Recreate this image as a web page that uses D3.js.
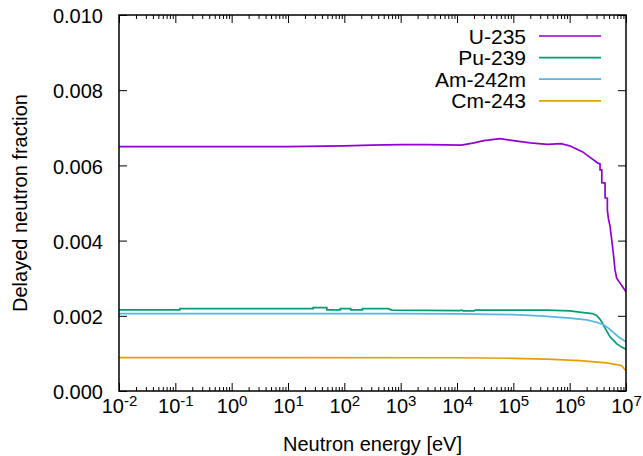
<!DOCTYPE html>
<html><head><meta charset="utf-8">
<script src="https://cdn.jsdelivr.net/npm/d3@7"></script>
<style>
body{margin:0;background:#fff;}
text{font-family:"Liberation Sans",Arial,Helvetica,sans-serif;fill:#000;}
</style>
</head><body>
<svg id="chart" width="643" height="456"></svg>
<script>
// ---- data ----
const seriesNames = ["U-235", "Pu-239", "Am-242m", "Cm-243"];
const seriesColors = ["#9400d3", "#009e73", "#56b4e9", "#e69f00"];

const u235Energy = [1e-2, 1e1, 1e2, 3e2, 1e3, 3e3, 1.2e4, 2e4, 3e4, 5.8e4, 1e5, 2e5, 4e5, 7e5, 1e6, 1.7e6, 3.18e6,
  3.46e6, 3.46e6, 3.72e6, 3.72e6, 4.25e6, 4.25e6, 4.67e6, 4.67e6, 4.86e6, 5.2e6, 5.58e6, 5.96e6, 6.38e6, 6.84e6, 1e7];
const u235Value = [0.00650, 0.00650, 0.00652, 0.00654, 0.00655, 0.00655, 0.00654, 0.00660, 0.00666, 0.00671, 0.00666, 0.00660, 0.00656, 0.00658, 0.00652, 0.00636, 0.00606,
  0.00604, 0.00588, 0.00588, 0.00554, 0.00553, 0.00514, 0.00513, 0.00481, 0.00459, 0.00439, 0.00402, 0.00366, 0.00322, 0.00300, 0.00264];

const pu239Energy = [1e-2, 1.2e-1, 1.2e-1, 2.8e1, 2.8e1, 4.9e1, 4.9e1, 8.5e1, 8.5e1, 1.3e2, 1.3e2, 2.1e2, 2.1e2, 6e2, 7e2, 1.1e4, 1.2e4, 1.3e4, 2e4, 2.1e4, 1e5, 4e5, 1e6, 1.5e6, 2.5e6, 3.0e6, 3.4e6, 3.7e6, 4.25e6, 5.2e6, 6.8e6, 8.5e6, 1e7];
const pu239Value = [0.00216, 0.00216, 0.00219, 0.00219, 0.00222, 0.00222, 0.00216, 0.00216, 0.00219, 0.00219, 0.00216, 0.00216, 0.00219, 0.00219, 0.00215, 0.00214, 0.00215, 0.00213, 0.00213, 0.00215, 0.00215, 0.00215, 0.00213, 0.00210, 0.00206, 0.00201, 0.00192, 0.00184, 0.00167, 0.00144, 0.00126, 0.00116, 0.00111];

const am242mEnergy = [1e-2, 1e3, 1e4, 1e5, 3e5, 1e6, 2e6, 3e6, 4e6, 5e6, 6e6, 7.5e6, 1e7];
const am242mValue = [0.00206, 0.00206, 0.00205, 0.00203, 0.00200, 0.00194, 0.00189, 0.00183, 0.00176, 0.00166, 0.00155, 0.00143, 0.00131];

const cm243Energy = [1e-2, 1e4, 1e5, 4e5, 1.5e6, 4.5e6, 8.3e6, 1e7];
const cm243Value = [0.000886, 0.000884, 0.000870, 0.000850, 0.000810, 0.000750, 0.000680, 0.000540];

const xTickExponents = [-2, -1, 0, 1, 2, 3, 4, 5, 6, 7];
const yTickValues = [0, 0.002, 0.004, 0.006, 0.008, 0.010];
const yTickLabels = ["0.000", "0.002", "0.004", "0.006", "0.008", "0.010"];
const xTitle = "Neutron energy [eV]";
const yTitle = "Delayed neutron fraction";

(function draw() {
  const pLeft = 119, pRight = 626, pTop = 15, pBottom = 391;

  const svg = d3.select("#chart");
  const x = d3.scaleLog().domain([1e-2, 1e7]).range([pLeft, pRight]);
  const y = d3.scaleLinear().domain([0, 0.010]).range([pBottom, pTop]);

  const majorX = xTickExponents.map(e => Math.pow(10, e));
  const minorX = [];
  for (let e = -2; e < 7; e++) for (let m = 2; m <= 9; m++) minorX.push(m * Math.pow(10, e));

  function styleAxis(g) {
    g.select(".domain").remove();
    g.selectAll(".tick line").attr("stroke", "#000").attr("stroke-width", 1);
    g.selectAll(".tick text").remove();
  }

  svg.append("g").attr("transform", `translate(0,${pBottom})`)
    .call(d3.axisBottom(x).tickValues(minorX).tickSize(-4).tickFormat("")).call(styleAxis);
  const bottomMajor = svg.append("g").attr("transform", `translate(0,${pBottom})`)
    .call(d3.axisBottom(x).tickValues(majorX).tickSize(-8).tickFormat("")).call(styleAxis);
  svg.append("g").attr("transform", `translate(0,${pTop})`)
    .call(d3.axisTop(x).tickValues(minorX).tickSize(-4).tickFormat("")).call(styleAxis);
  svg.append("g").attr("transform", `translate(0,${pTop})`)
    .call(d3.axisTop(x).tickValues(majorX).tickSize(-8).tickFormat("")).call(styleAxis);
  const leftAxis = svg.append("g").attr("transform", `translate(${pLeft},0)`)
    .call(d3.axisLeft(y).tickValues(yTickValues).tickSize(-8).tickFormat("")).call(styleAxis);
  svg.append("g").attr("transform", `translate(${pRight},0)`)
    .call(d3.axisRight(y).tickValues(yTickValues).tickSize(-8).tickFormat("")).call(styleAxis);

  bottomMajor.selectAll(".tick").each(function(d, i) {
    const t = d3.select(this).append("text")
      .attr("y", 22).attr("text-anchor", "middle").style("font-size", "20px");
    t.append("tspan").text("10");
    t.append("tspan").attr("dy", -7).style("font-size", "15px").text(String(xTickExponents[i]));
  });
  leftAxis.selectAll(".tick").each(function(d, i) {
    d3.select(this).append("text")
      .attr("x", -16).attr("y", 0).attr("dy", "0.38em")
      .attr("text-anchor", "end").style("font-size", "20px")
      .text(yTickLabels[i]);
  });

  svg.append("clipPath").attr("id", "clip").append("rect")
    .attr("x", pLeft).attr("y", pTop).attr("width", pRight - pLeft).attr("height", pBottom - pTop);

  const series = [
    {e: u235Energy, v: u235Value},
    {e: pu239Energy, v: pu239Value},
    {e: am242mEnergy, v: am242mValue},
    {e: cm243Energy, v: cm243Value}
  ];
  const line = d3.line().x(d => x(d[0])).y(d => y(d[1]));
  const plotG = svg.append("g").attr("clip-path", "url(#clip)");
  series.forEach((s, i) => {
    const pts = s.e.map((e, j) => [e, s.v[j]]);
    plotG.append("path").datum(pts).attr("d", line)
      .attr("fill", "none").attr("stroke", seriesColors[i]).attr("stroke-width", 1.7);
  });

  svg.append("rect").attr("x", pLeft).attr("y", pTop).attr("width", pRight - pLeft).attr("height", pBottom - pTop)
    .attr("fill", "none").attr("stroke", "#000").attr("stroke-width", 1.5);

  const legY0 = 36, legDy = 21.6;
  seriesNames.forEach((name, i) => {
    const yy = legY0 + i * legDy;
    svg.append("text").attr("x", 526).attr("y", yy).attr("dy", "0.36em")
      .attr("text-anchor", "end").style("font-size", "21px").text(name);
    svg.append("line").attr("x1", 539).attr("x2", 601).attr("y1", yy).attr("y2", yy)
      .attr("stroke", seriesColors[i]).attr("stroke-width", 1.7);
  });

  svg.append("text").attr("x", (pLeft + pRight) / 2).attr("y", 451)
    .attr("text-anchor", "middle").style("font-size", "20px").text(xTitle);
  svg.append("text").attr("transform", `translate(27,${(pTop + pBottom) / 2}) rotate(-90)`)
    .attr("text-anchor", "middle").style("font-size", "20px").text(yTitle);
})();
</script>
</body></html>
